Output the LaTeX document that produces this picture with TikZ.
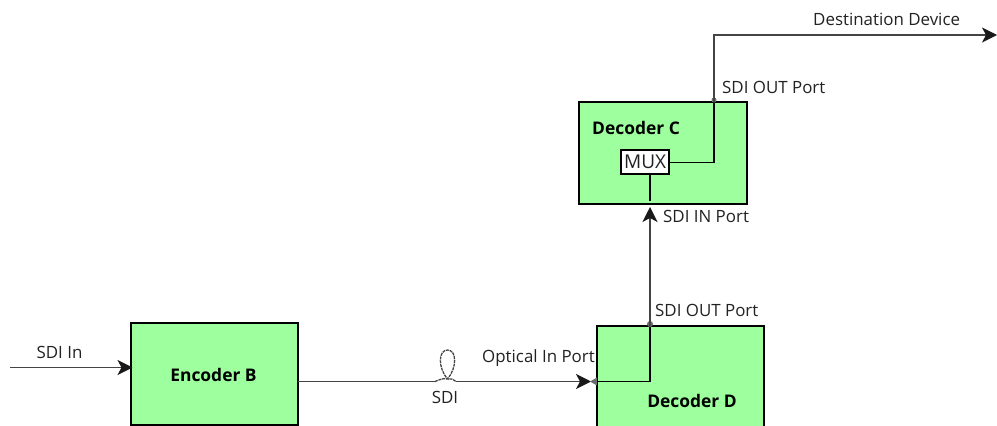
\documentclass[tikz,border=0pt]{standalone}
\usepackage{fontspec}
\setmainfont{Open Sans}
\usetikzlibrary{arrows.meta}
\definecolor{boxgreen}{HTML}{9DFF9D}
\definecolor{linegray}{HTML}{444444}
\definecolor{txt}{HTML}{222222}
\tikzset{
  block/.style={draw=black,fill=boxgreen,line width=2pt,minimum width=167.4pt,minimum height=102pt,outer sep=0pt,inner sep=0pt,anchor=north west},
  blocktext/.style={font=\fontsize{17.4pt}{20pt}\selectfont\bfseries,text=black,inner sep=0pt},
  lab/.style={font=\fontsize{16.9pt}{20pt}\selectfont,text=txt,inner sep=0pt},
  conn/.style={draw=linegray,line width=1.3pt},
  inner/.style={draw=black,line width=1.8pt},
  tip/.style={-{Stealth[length=15pt,width=15pt,inset=4pt,fill=black!90,color=black!90]}},
  dot/.style={circle,fill=gray!85!black,inner sep=0pt,minimum size=6pt},
  muxbox/.style={draw=black,fill=white,line width=2pt,minimum width=48.3pt,minimum height=24pt,outer sep=0pt,inner sep=0pt,font=\fontsize{19pt}{20pt}\selectfont,text=txt}
}
\begin{document}
\begin{tikzpicture}[x=1pt,y=-1pt]
\useasboundingbox (0,0) rectangle (997,426);
\clip (0,0) rectangle (997,426);
% blocks
\node[block] (enc) at (130.9,323.3) {};
\node[block,minimum height=115pt] (decd) at (596.8,325.7) {};
\node[block] (decc) at (579.4,101.7) {};
\node[muxbox] (mux) at (645.1,162) {MUX};
% free ends
\coordinate (sdiin) at (10,367.5);
\coordinate (encin) at (132.5,367.5);
\coordinate (encout) at (298,381.5);
\coordinate (optin) at (591,381.5);
\coordinate (dleft) at (597,381.5);
\coordinate (dcorner) at (650,381.5);
\coordinate (dtop) at (650,326);
\coordinate (cbot) at (650,207);
\coordinate (ctopout) at (714,102);
\coordinate (mcorner) at (714,162.5);
\coordinate (up) at (714,35);
\coordinate (dest) at (997,35);
\coordinate (coilL) at (435,381.5);
\coordinate (coilR) at (456,381.5);
\coordinate (coilM) at (447.5,379);
% connectors
\draw[conn,tip] (sdiin) -- (encin);
\draw[conn] (encout) -- (coilL);
\draw[conn,tip] (coilR) -- (optin);
\fill[gray!85!black] (590,381.5) -- (597,377.5) -- (597,385.5) -- cycle;
\draw[inner] (dleft) -- (dcorner) -- (dtop);
\node[dot] (ddot) at (650,324) {};
\draw[conn,tip] (dtop) -- (cbot);
\draw[inner] (mux.east |- mcorner) -- (mcorner) -- (ctopout);
\draw[inner] (650,174) -- (650,201);
\node[dot,minimum size=5pt] (cdot) at (714,100) {};
\draw[conn,tip] (ctopout) -- (up) -- (dest);
% fibre coil
\draw[linegray,line width=1.3pt,dash pattern=on 3pt off 0.8pt] (coilL) .. controls (441,379) and (444,378) .. (coilM)
  .. controls (438,368) and (438,350) .. (447.5,350)
  .. controls (457,350) and (457,368) .. (coilM)
  .. controls (451,378) and (452,379) .. (coilR);
% labels
\node[blocktext] (tb) at (213.5,375) {Encoder B};
\node[blocktext] (td) at (692,400.5) {Decoder D};
\node[blocktext,anchor=west] (tc) at (592,128) {Decoder C};
\node[lab] (l1) at (59.5,352.5) {SDI In};
\node[lab] (l2) at (445,397) {SDI};
\node[lab,anchor=west] (l3) at (482,358.5) {Optical In Port};
\node[lab,anchor=west] (l4) at (655,310.5) {SDI OUT Port};
\node[lab,anchor=west] (l5) at (663,216.5) {SDI IN Port};
\node[lab,anchor=west] (l6) at (722,87) {SDI OUT Port};
\node[lab,anchor=west] (l7) at (813,19) {Destination Device};
\end{tikzpicture}
\end{document}
